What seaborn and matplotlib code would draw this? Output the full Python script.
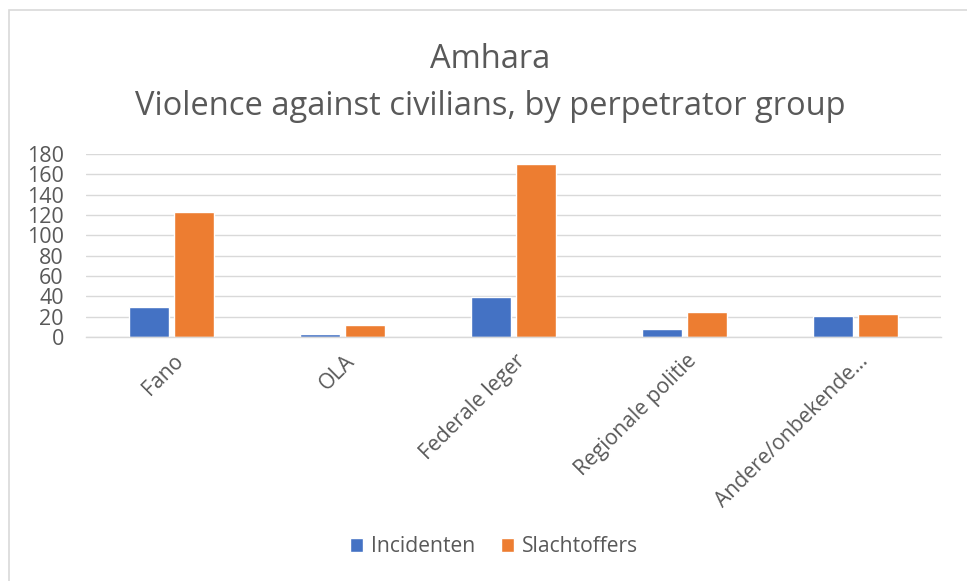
import matplotlib
matplotlib.use("Agg")
import matplotlib.pyplot as plt
import matplotlib.transforms as mtransforms
import seaborn as sns
import pandas as pd
from matplotlib.patches import Rectangle

categories = ["Fano", "OLA", "Federale leger", "Regionale politie", "Andere/onbekende…"]
incidenten = [30, 3, 39, 8, 21]
slachtoffers = [123, 12, 170, 25, 23]
series_names = ["Incidenten", "Slachtoffers"]
yticks = [0, 20, 40, 60, 80, 100, 120, 140, 160, 180]

df = pd.DataFrame({
    "cat": categories * 2,
    "val": incidenten + slachtoffers,
    "series": [series_names[0]] * len(categories) + [series_names[1]] * len(categories),
})

sns.set_theme(style="white")
plt.rcParams["font.family"] = ["Open Sans", "DejaVu Sans"]

TXT = "#595959"
fig = plt.figure(figsize=(9.67, 5.81), dpi=100)
ax = fig.add_axes([86/967, 1 - 337/581, 855/967, 183/581])

sns.barplot(data=df, x="cat", y="val", hue="series", order=categories,
            hue_order=series_names, palette=["#4472C4", "#ED7D31"],
            width=0.52, gap=0.11, ax=ax, saturation=1, legend=True)

ax.set_ylim(0, 180)
ax.set_xlim(-0.5, len(categories) - 0.5)
ax.set_yticks(yticks)
ax.set_yticklabels([str(t) for t in yticks])
ax.yaxis.grid(True, color="#d9d9d9", lw=1)
ax.set_axisbelow(True)
for s in ["left", "right", "top"]:
    ax.spines[s].set_visible(False)
ax.spines["bottom"].set_color("#d9d9d9")
ax.spines["bottom"].set_linewidth(1)
ax.set_xlabel("")
ax.set_ylabel("")
ax.tick_params(axis="y", length=0, pad=16, labelsize=15.5, labelcolor=TXT)
ax.tick_params(axis="x", length=0, labelbottom=False)

offset = mtransforms.ScaledTranslation(13/100, -25/100, fig.dpi_scale_trans)
for i, c in enumerate(categories):
    ax.text(i, 0, c, transform=ax.get_xaxis_transform() + offset, rotation=45,
            rotation_mode="anchor", ha="right", va="baseline", fontsize=15.2, color=TXT)

handles, labels = ax.get_legend_handles_labels()
ax.get_legend().remove()
fig.legend(handles, labels, loc="center", bbox_to_anchor=(494/967, 1 - 547/581),
           ncol=2, frameon=False, fontsize=15.2, handlelength=0.62, handleheight=0.62,
           handletextpad=0.4, columnspacing=1.2, labelcolor=TXT)

fig.text(490/967, 1 - 68/581, "Amhara", ha="center", va="baseline", fontsize=23.5, color=TXT)
fig.text(490/967, 1 - 115/581, "Violence against civilians, by perpetrator group", ha="center",
         va="baseline", fontsize=23.5, color=TXT)

fig.patches.append(Rectangle((9/967, -0.1), 1.2, 1 - 10/581 + 0.1, transform=fig.transFigure,
                             fill=False, edgecolor="#d9d9d9", lw=1.2))

fig.savefig("out.png", dpi=100)
